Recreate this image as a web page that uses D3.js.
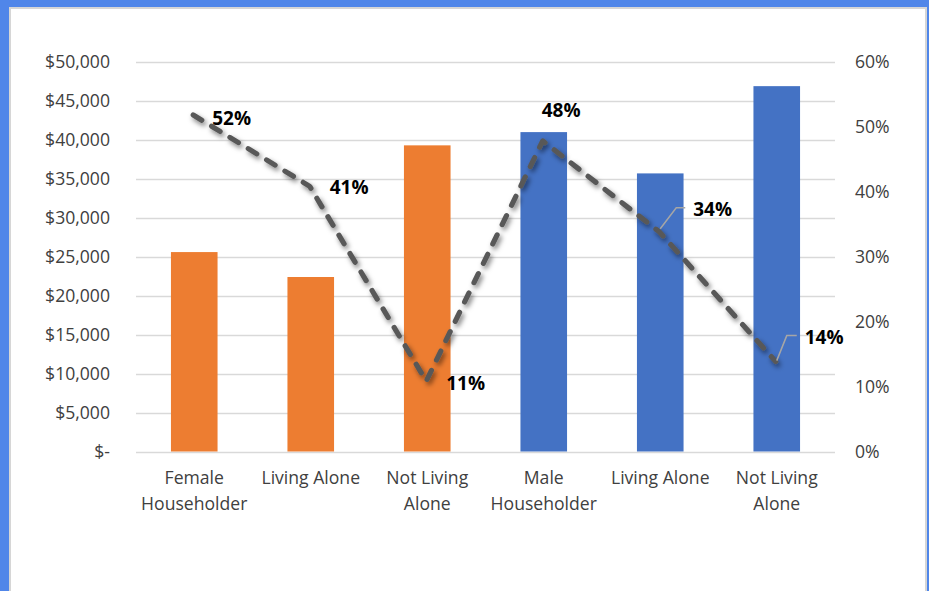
<!DOCTYPE html>
<html>
<head>
<meta charset="utf-8">
<script src="https://cdn.jsdelivr.net/npm/d3@7"></script>
<style>
  html, body { margin: 0; padding: 0; background: #5086E9; }
  svg { display: block; }
</style>
</head>
<body>
<svg id="chart" width="929" height="591"></svg>
<script>
// ---- data ----
const categories = [["Female", "Householder"], ["Living Alone"], ["Not Living", "Alone"], ["Male", "Householder"], ["Living Alone"], ["Not Living", "Alone"]];
const incomes = [25600, 22400, 39300, 41000, 35700, 46900];
const shares = [0.52, 0.41, 0.11, 0.48, 0.34, 0.14];
const barGroups = ["female", "female", "female", "male", "male", "male"];
const leftTicks = [0, 5000, 10000, 15000, 20000, 25000, 30000, 35000, 40000, 45000, 50000];
const rightTicks = [0, 0.1, 0.2, 0.3, 0.4, 0.5, 0.6];

// ---- layout / style ----
const colors = { female: "#ED7D31", male: "#4472C4" };
const font = "'Open Sans', sans-serif";
const svg = d3.select("#chart");

// frame
svg.append("rect").attr("x", 10).attr("y", 8).attr("width", 916).attr("height", 600)
  .attr("fill", "#ffffff").attr("stroke", "#d6d6d6").attr("stroke-width", 2);

const x = d3.scaleBand().domain(d3.range(categories.length)).range([136, 835])
  .paddingInner(0.6).paddingOuter(0.3);
const yL = d3.scaleLinear().domain([0, 50000]).range([451.5, 62]);
const yR = d3.scaleLinear().domain([0, 0.6]).range([451.5, 62]);

// gridlines
svg.append("g").selectAll("line").data(leftTicks).join("line")
  .attr("x1", 136).attr("x2", 835)
  .attr("y1", d => Math.round(yL(d)) + 0.5).attr("y2", d => Math.round(yL(d)) + 0.5)
  .attr("stroke", "#d9d9d9").attr("stroke-width", 1.3);

// left axis
const fmtL = d => d === 0 ? "$-" : "$" + d3.format(",")(d);
const axL = svg.append("g").attr("transform", "translate(136,0)")
  .call(d3.axisLeft(yL).tickValues(leftTicks).tickFormat(fmtL).tickSize(0).tickPadding(26));
axL.select(".domain").remove();
axL.selectAll("text").attr("font-family", font).attr("font-size", 17.6).attr("fill", "#404040");

// right axis
const axR = svg.append("g").attr("transform", "translate(835,0)")
  .call(d3.axisRight(yR).tickValues(rightTicks).tickFormat(d3.format(".0%")).tickSize(0).tickPadding(20));
axR.select(".domain").remove();
axR.selectAll("text").attr("font-family", font).attr("font-size", 17.6).attr("fill", "#404040");

// bars
svg.append("g").selectAll("rect").data(incomes).join("rect")
  .attr("x", (d, i) => x(i)).attr("width", x.bandwidth())
  .attr("y", d => yL(d)).attr("height", d => yL(0) - yL(d))
  .attr("fill", (d, i) => colors[barGroups[i]]);

// category labels
const catG = svg.append("g");
categories.forEach((lines, i) => {
  const t = catG.append("text").attr("text-anchor", "middle")
    .attr("font-family", font).attr("font-size", 17.6).attr("fill", "#404040");
  lines.forEach((ln, j) => {
    t.append("tspan").attr("x", x(i) + x.bandwidth() / 2).attr("y", 484 + j * 25.5).text(ln);
  });
});

// line with shadow
const defs = svg.append("defs");
const f = defs.append("filter").attr("id", "shadow").attr("x", "-10%").attr("y", "-10%").attr("width", "130%").attr("height", "130%");
f.append("feDropShadow").attr("dx", 2).attr("dy", 3).attr("stdDeviation", 2.4)
  .attr("flood-color", "#000").attr("flood-opacity", 0.5);

const cx = i => x(i) + x.bandwidth() / 2;
const line = d3.line().x((d, i) => cx(i) - 1).y(d => yR(d) + 1);
svg.append("path").datum(shares).attr("d", line)
  .attr("fill", "none").attr("stroke", "#595959").attr("stroke-width", 5.2)
  .attr("stroke-dasharray", "10,11.5").attr("stroke-linecap", "round").attr("stroke-linejoin", "round")
  .attr("filter", "url(#shadow)");

// data labels (offsets from the point: label start x, label centre y)
const labelOffsets = [[18, 4], [19, 2], [19, 3], [-2, -30], [33, -22], [28, -23]];
const leaders = { 4: [[0, -2], [16, -23], [25, -23]], 5: [[0, 0], [10, -25], [20, -25]] };
Object.entries(leaders).forEach(([i, pts]) => {
  i = +i;
  svg.append("polyline")
    .attr("points", pts.map(p => [cx(i) + p[0], yR(shares[i]) + p[1]].join(",")).join(" "))
    .attr("fill", "none").attr("stroke", "#a6a6a6").attr("stroke-width", 1.5);
});
svg.append("g").selectAll("text").data(shares).join("text")
  .attr("x", (d, i) => cx(i) + labelOffsets[i][0])
  .attr("y", (d, i) => yR(d) + labelOffsets[i][1] + 6.8)
  .attr("font-family", font).attr("font-weight", "bold").attr("font-size", 19).attr("fill", "#000")
  .text(d => d3.format(".0%")(d));
</script>
</body>
</html>
